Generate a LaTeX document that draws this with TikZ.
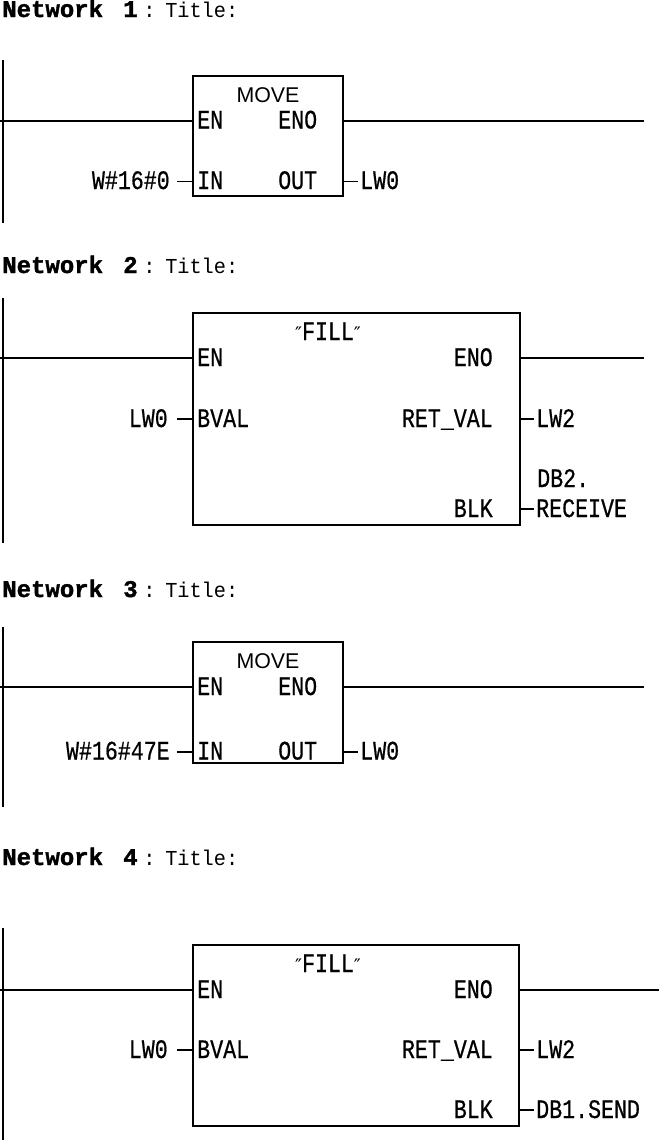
\documentclass[tikz,border=0pt]{standalone}
\usepackage{fontspec}
\newfontfamily\plc[FakeStretch=0.81,FakeBold=0.6]{Liberation Mono}
\newfontfamily\ttlr[FakeStretch=0.95]{Liberation Mono}
\newfontfamily\ttlf[FakeBold=1.5]{Liberation Mono}
\newfontfamily\mvf{Liberation Sans}
\newfontfamily\dvs{DejaVu Sans}
\tikzset{
  lab/.style={inner sep=0pt, font=\plc\fontsize{20}{20}\selectfont},
  tb/.style={inner sep=0pt, font=\ttlf\bfseries\fontsize{18}{18}\selectfont},
  tr/.style={inner sep=0pt, font=\ttlr\fontsize{16}{17}\selectfont},
  mv/.style={inner sep=0pt, font=\mvf\fontsize{16}{16}\selectfont},
  wire/.style={line width=1.4pt},
  wirethin/.style={line width=1pt},
  fb/.style={draw, line width=1.4pt, inner sep=0pt},
  fbthin/.style={draw, line width=1.1pt, inner sep=0pt},
}
\newcommand\qq{{\dvs\fontsize{14}{14}\selectfont ″}}
\begin{document}
\begin{tikzpicture}[x=0.75pt,y=-0.75pt]
\useasboundingbox (0,0) rectangle (659,1140);

% ---------------- Network 1 ----------------
\node[tb, anchor=base west] (t1a) at (2,17) {Network};
\node[tb, anchor=base west] (t1n) at (123,17) {1};
\node[tr, anchor=base west] (t1c) at (143,17) {:};
\node[tr, anchor=base west] (t1t) at (165,17) {Title:};
\coordinate (r1t) at (3,60); \coordinate (r1b) at (3,223);
\draw[wire] (r1t) -- (r1b);
\node[fb, minimum width=150*0.75pt, minimum height=120*0.75pt] (b1) at (268,136) {};
\node[mv, anchor=base] (m1) at (268,102) {MOVE};
\node[lab, anchor=base west] (en1) at (197,128.5) {EN};
\node[lab, anchor=base west] (eno1) at (278,128.5) {ENO};
\node[lab, anchor=base west] (in1) at (197,189) {IN};
\node[lab, anchor=base west] (out1) at (278,189) {OUT};
\node[lab, anchor=base east] (v1) at (170,189) {W\#16\#0};
\node[lab, anchor=base west] (o1) at (360,189) {LW0};
\coordinate (w1a) at (0,121); \coordinate (w1b) at (644,121);
\coordinate (w1c) at (177,181.5); \coordinate (w1d) at (358,181.5);
\draw[wire] (w1a) -- (w1a -| b1.west);
\draw[wire] (b1.east |- w1b) -- (w1b);
\draw[wire] (w1c) -- (w1c -| b1.west);
\draw[wire] (b1.east |- w1d) -- (w1d);

% ---------------- Network 2 ----------------
\node[tb, anchor=base west] (t2a) at (2,273) {Network};
\node[tb, anchor=base west] (t2n) at (123,273) {2};
\node[tr, anchor=base west] (t2c) at (143,273) {:};
\node[tr, anchor=base west] (t2t) at (165,273) {Title:};
\coordinate (r2t) at (3,298); \coordinate (r2b) at (3,543);
\draw[wire] (r2t) -- (r2b);
\node[fb, minimum width=327*0.75pt, minimum height=212*0.75pt] (b2) at (356.5,419) {};
\node[lab, anchor=base] (f2) at (328,340) {\qq FILL\qq};
\node[lab, anchor=base west] (en2) at (197,366) {EN};
\node[lab, anchor=base east] (eno2) at (493,366) {ENO};
\node[lab, anchor=base west] (bv2) at (197,427) {BVAL};
\node[lab, anchor=base east] (rv2) at (493,427) {RET\_VAL};
\node[lab, anchor=base east] (blk2) at (493,517) {BLK};
\node[lab, anchor=base east] (v2) at (168,427) {LW0};
\node[lab, anchor=base west] (o2a) at (536,427) {LW2};
\node[lab, anchor=base west] (o2b) at (537,487) {DB2.};
\node[lab, anchor=base west] (o2c) at (536,517) {RECEIVE};
\coordinate (w2a) at (0,358); \coordinate (w2b) at (644,358);
\coordinate (w2c) at (177,419); \coordinate (w2d) at (534,419);
\coordinate (w2e) at (534,509);
\draw[wire] (w2a) -- (w2a -| b2.west);
\draw[wire] (b2.east |- w2b) -- (w2b);
\draw[wire] (w2c) -- (w2c -| b2.west);
\draw[wire] (b2.east |- w2d) -- (w2d);
\draw[wire] (b2.east |- w2e) -- (w2e);

% ---------------- Network 3 ----------------
\node[tb, anchor=base west] (t3a) at (2,597) {Network};
\node[tb, anchor=base west] (t3n) at (123,597) {3};
\node[tr, anchor=base west] (t3c) at (143,597) {:};
\node[tr, anchor=base west] (t3t) at (165,597) {Title:};
\coordinate (r3t) at (3,627); \coordinate (r3b) at (3,807);
\draw[wire] (r3t) -- (r3b);
\node[fb, minimum width=150*0.75pt, minimum height=121*0.75pt] (b3) at (268,702.5) {};
\node[mv, anchor=base] (m3) at (268,668) {MOVE};
\node[lab, anchor=base west] (en3) at (197,695) {EN};
\node[lab, anchor=base west] (eno3) at (278,695) {ENO};
\node[lab, anchor=base west] (in3) at (197,759.5) {IN};
\node[lab, anchor=base west] (out3) at (278,759.5) {OUT};
\node[lab, anchor=base east] (v3) at (170,759.5) {W\#16\#47E};
\node[lab, anchor=base west] (o3) at (360,759.5) {LW0};
\coordinate (w3a) at (0,687); \coordinate (w3b) at (644,687);
\coordinate (w3c) at (177,752); \coordinate (w3d) at (358,752);
\draw[wire] (w3a) -- (w3a -| b3.west);
\draw[wire] (b3.east |- w3b) -- (w3b);
\draw[wire] (w3c) -- (w3c -| b3.west);
\draw[wire] (b3.east |- w3d) -- (w3d);

% ---------------- Network 4 ----------------
\node[tb, anchor=base west] (t4a) at (2,865) {Network};
\node[tb, anchor=base west] (t4n) at (123,865) {4};
\node[tr, anchor=base west] (t4c) at (143,865) {:};
\node[tr, anchor=base west] (t4t) at (165,865) {Title:};
\coordinate (r4t) at (3,928); \coordinate (r4b) at (3,1140);
\draw[wirethin] (r4t) -- (r4b);
\node[fbthin, minimum width=326*0.75pt, minimum height=181*0.75pt] (b4) at (356,1035.5) {};
\node[lab, anchor=base] (f4) at (328,972) {\qq FILL\qq};
\node[lab, anchor=base west] (en4) at (197,998) {EN};
\node[lab, anchor=base east] (eno4) at (493,998) {ENO};
\node[lab, anchor=base west] (bv4) at (197,1058) {BVAL};
\node[lab, anchor=base east] (rv4) at (493,1058) {RET\_VAL};
\node[lab, anchor=base east] (blk4) at (493,1118) {BLK};
\node[lab, anchor=base east] (v4) at (168,1058) {LW0};
\node[lab, anchor=base west] (o4a) at (536,1058) {LW2};
\node[lab, anchor=base west] (o4b) at (536,1118) {DB1.SEND};
\coordinate (w4a) at (0,990); \coordinate (w4b) at (659,990);
\coordinate (w4c) at (177,1050); \coordinate (w4d) at (534,1050);
\coordinate (w4e) at (534,1110);
\draw[wirethin] (w4a) -- (w4a -| b4.west);
\draw[wirethin] (b4.east |- w4b) -- (w4b);
\draw[wirethin] (w4c) -- (w4c -| b4.west);
\draw[wirethin] (b4.east |- w4d) -- (w4d);
\draw[wirethin] (b4.east |- w4e) -- (w4e);
\end{tikzpicture}
\end{document}
